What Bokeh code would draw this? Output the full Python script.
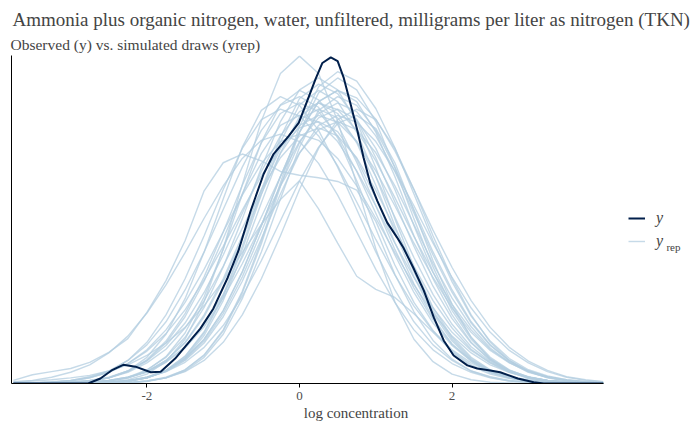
from bokeh.plotting import figure
from bokeh.models import Range1d, FixedTicker, Legend, LegendItem, Title, Label
from bokeh.embed import file_html
from bokeh.resources import INLINE

# Data (densities)
grid_x = [-3.75, -3.5, -3.25, -3.0, -2.75, -2.5, -2.25, -2.0, -1.75, -1.5, -1.25, -1.0,
          -0.75, -0.5, -0.25, 0.0, 0.25, 0.5, 0.75, 1.0, 1.25, 1.5, 1.75, 2.0,
          2.25, 2.5, 2.75, 3.0, 3.25, 3.5, 3.75, 3.98]

yrep_01 = [0, 0, 0, .001, .002, .004, .009, .019, .037, .066, .110, .168, .237, .311, .377, .423,
           .44, .426, .388, .332, .267, .202, .143, .095, .059, .035, .019, .010, .005, .002, .001, 0]
yrep_02 = [0, 0, 0, 0, 0, .001, .003, .009, .020, .041, .077, .133, .206, .290, .370, .428,
           .45, .439, .406, .357, .298, .236, .178, .127, .086, .055, .034, .020, .011, .006, .003, .001]
yrep_03 = [0, 0, 0, 0, .001, .002, .004, .010, .021, .040, .071, .117, .179, .253, .332, .403,
           .452, .47, .452, .403, .332, .253, .179, .117, .071, .040, .021, .010, .004, .002, .001, 0]
yrep_04 = [0, 0, .001, .002, .004, .009, .019, .037, .065, .107, .164, .232, .304, .369, .414, .43,
           .419, .388, .341, .285, .225, .170, .121, .082, .053, .033, .019, .010, .005, .003, .001, .001]
yrep_05 = [0, 0, 0, .001, .002, .005, .010, .019, .035, .059, .095, .143, .202, .267, .332, .388,
           .426, .44, .423, .377, .311, .237, .168, .110, .066, .037, .019, .009, .004, .002, .001, 0]
yrep_06 = [0, 0, .001, .002, .005, .009, .018, .033, .055, .089, .133, .188, .249, .310, .362, .397,
           .41, .397, .362, .310, .249, .188, .133, .089, .055, .033, .018, .009, .005, .002, .001, 0]
yrep_07 = [0, 0, 0, 0, .001, .004, .009, .021, .043, .081, .139, .215, .303, .387, .447, .47,
           .455, .415, .355, .285, .215, .153, .102, .063, .038, .021, .010, .005, .002, .001, 0, 0]
yrep_08 = [0, 0, 0, 0, 0, 0, .001, .003, .009, .020, .042, .079, .136, .211, .296, .379,
           .438, .46, .446, .406, .347, .279, .211, .150, .099, .062, .037, .020, .011, .005, .002, .001]
yrep_09 = [0, 0, 0, .001, .002, .005, .010, .022, .042, .074, .122, .187, .264, .346, .420, .471,
           .49, .471, .420, .346, .264, .187, .122, .074, .042, .022, .010, .005, .002, .001, 0, 0]
yrep_10 = [0, 0, 0, 0, .001, .002, .005, .010, .019, .034, .058, .093, .140, .197, .261, .325,
           .379, .417, .43, .409, .354, .277, .197, .127, .074, .039, .019, .008, .003, .001, 0, 0]
yrep_11 = [0, .001, .002, .004, .009, .018, .032, .054, .086, .130, .183, .243, .302, .353, .388, .40,
           .390, .361, .317, .265, .210, .158, .113, .076, .049, .030, .018, .010, .005, .003, .001, .001]
yrep_12 = [.001, .001, .003, .005, .010, .018, .032, .052, .080, .118, .166, .220, .278, .333, .379, .410,
           .42, .404, .360, .297, .226, .160, .105, .063, .036, .018, .009, .004, .002, .001, 0, 0]
yrep_13 = [0, 0, 0, 0, .001, .002, .004, .009, .019, .037, .065, .107, .164, .232, .304, .369,
           .414, .43, .419, .388, .341, .285, .225, .170, .121, .082, .053, .033, .019, .010, .005, .003]
yrep_14 = [0, .001, .002, .004, .009, .019, .037, .066, .110, .168, .237, .311, .377, .423, .44, .429,
           .397, .349, .291, .231, .174, .124, .084, .054, .033, .019, .011, .006, .003, .001, .001, 0]
yrep_15 = [0, 0, 0, 0, .001, .002, .004, .010, .021, .040, .071, .117, .179, .253, .332, .403,
           .452, .47, .458, .424, .373, .311, .246, .186, .133, .090, .058, .036, .021, .011, .006, .003]
yrep_16 = [.003, .005, .010, .018, .030, .049, .076, .113, .158, .210, .265, .317, .361, .390, .40, .388,
           .353, .302, .243, .183, .130, .086, .054, .032, .018, .009, .004, .002, .001, 0, 0, 0]
yrep_17 = [0, 0, 0, .001, .003, .009, .020, .042, .079, .136, .211, .296, .379, .438, .46, .446,
           .406, .347, .279, .211, .150, .099, .062, .037, .020, .011, .005, .002, .001, 0, 0, 0]
yrep_18 = [0, 0, 0, 0, 0, 0, .001, .004, .010, .022, .046, .086, .148, .229, .322, .412,
           .476, .50, .485, .441, .378, .304, .229, .163, .108, .068, .040, .022, .012, .006, .003, .001]
yrep_19 = [0, 0, 0, 0, .001, .002, .006, .015, .035, .071, .131, .216, .319, .421, .497, .525,
           .497, .421, .319, .216, .131, .071, .035, .015, .006, .002, .001, 0, 0, 0, 0, 0]
yrep_20 = [.005, .014, .019, .024, .034, .050, .072, .114, .165, .229, .309, .354, .368, .357, .340, .334,
           .330, .324, .310, .260, .190, .130, .085, .050, .028, .015, .008, .004, .002, .001, 0, 0]
yrep_21 = [.002, .004, .006, .009, .013, .020, .030, .045, .065, .090, .125, .165, .210, .255, .295, .325,
           .280, .225, .172, .151, .138, .112, .082, .052, .030, .017, .009, .004, .002, .001, 0, 0]
yrep_22 = [0, 0, 0, 0, 0, .001, .004, .009, .021, .043, .081, .139, .215, .303, .387, .447,
           .47, .452, .403, .332, .253, .179, .117, .071, .040, .021, .010, .004, .002, .001, 0, 0]
yrep_23 = [0, 0, 0, 0, .001, .002, .004, .009, .020, .038, .068, .112, .171, .243, .318, .386,
           .433, .45, .436, .397, .340, .273, .206, .146, .097, .061, .036, .020, .010, .005, .002, .001]
yrep_24 = [0, 0, .001, .002, .005, .010, .020, .036, .061, .097, .146, .206, .273, .340, .397, .436,
           .45, .433, .386, .318, .243, .171, .112, .068, .038, .020, .009, .004, .002, .001, 0, 0]
yrep_25 = [0, 0, .001, .002, .004, .009, .020, .038, .068, .112, .171, .243, .318, .386, .433, .45,
           .436, .397, .340, .273, .206, .146, .097, .061, .036, .020, .010, .005, .002, .001, 0, 0]
yrep_26 = [0, 0, 0, .001, .002, .005, .010, .018, .034, .057, .091, .137, .192, .255, .317, .370,
           .407, .42, .407, .370, .317, .255, .192, .137, .091, .057, .034, .018, .010, .005, .002, .001]
yrep_27 = [0, 0, 0, .001, .002, .004, .009, .019, .037, .065, .107, .164, .232, .304, .369, .414,
           .43, .419, .388, .341, .285, .225, .170, .121, .082, .053, .033, .019, .010, .005, .003, .001]
yrep_28 = [0, 0, 0, 0, 0, .001, .002, .004, .009, .019, .037, .066, .110, .168, .237, .311,
           .377, .423, .44, .423, .377, .311, .237, .168, .110, .066, .037, .019, .009, .004, .002, .001]
yrep_29 = [0, 0, 0, 0, 0, 0, .001, .004, .009, .022, .045, .084, .145, .224, .316, .403,
           .466, .49, .471, .420, .346, .264, .187, .122, .074, .042, .022, .010, .005, .002, .001, 0]
yrep_30 = [0, .001, .002, .005, .011, .020, .037, .062, .099, .150, .211, .279, .347, .406, .446, .46,
           .443, .394, .325, .248, .175, .115, .069, .039, .020, .010, .004, .002, .001, 0, 0, 0]
yrep_31 = [0, 0, 0, 0, 0, .001, .004, .009, .021, .044, .083, .142, .220, .309, .395, .457,
           .48, .465, .423, .362, .291, .220, .156, .104, .065, .038, .021, .011, .005, .002, .001, 0]

obs_x = [-3.75, -2.77, -2.61, -2.45, -2.31, -2.15, -1.95, -1.82, -1.63, -1.43, -1.30, -1.13,
         -0.94, -0.80, -0.64, -0.47, -0.34, -0.14, -0.01, 0.10, 0.21, 0.30, 0.41, 0.50,
         0.58, 0.67, 0.76, 0.84, 0.93, 1.02, 1.15, 1.28, 1.36, 1.49, 1.63, 1.76,
         1.89, 2.02, 2.20, 2.33, 2.50, 2.63, 2.86, 3.07, 3.20, 3.98]
obs_dens = [0, 0, .008, .022, .030, .027, .018, .019, .040, .069, .088, .120,
            .170, .213, .277, .336, .368, .397, .418, .453, .488, .514, .523, .517,
            .490, .448, .405, .362, .320, .293, .258, .234, .218, .186, .149, .106,
            .069, .045, .029, .024, .021, .018, .008, .002, 0, 0]

x_ticks = [-2, 0, 2]
x_lo, x_hi = -3.775, 3.984

yrep_draws = [yrep_01, yrep_02, yrep_03, yrep_04, yrep_05, yrep_06, yrep_07, yrep_08,
              yrep_09, yrep_10, yrep_11, yrep_12, yrep_13, yrep_14, yrep_15, yrep_16,
              yrep_17, yrep_18, yrep_19, yrep_20, yrep_21, yrep_22, yrep_23, yrep_24,
              yrep_25, yrep_26, yrep_27, yrep_28, yrep_29, yrep_30, yrep_31]

serif = "Liberation Serif"

# frame spans the full width so the legend can sit inside it, right of the data
p = figure(width=700, height=432, output_backend="svg", toolbar_location=None,
           x_range=Range1d(x_lo, 5.256), y_range=Range1d(0, 0.526),
           min_border_left=11, min_border_right=0, min_border_top=55, min_border_bottom=49,
           background_fill_color="white", border_fill_color="white")
p.outline_line_color = None
p.xgrid.visible = False
p.ygrid.visible = False

# titles (the one added later sits closer to the plot)
p.title.text = "Ammonia plus organic nitrogen, water, unfiltered, milligrams per liter as nitrogen (TKN)"
p.title.text_font = serif
p.title.text_font_size = "19px"
p.title.text_font_style = "normal"
p.title.standoff = 3
p.title.offset = 1
p.add_layout(Title(text="Observed (y) vs. simulated draws (yrep)",
                   text_font=serif, text_font_size="15.5px", text_font_style="normal",
                   standoff=5, offset=-1), "above")

# draws
rep_renderers = []
for draw in yrep_draws:
    r = p.line(grid_x, draw, line_color="#b3cde0", line_alpha=0.75, line_width=1.4)
    rep_renderers.append(r)
obs_r = p.line(obs_x, obs_dens, line_color="#011f4b", line_width=2)

# axes
p.xaxis.bounds = (x_lo, x_hi)
p.xaxis.ticker = FixedTicker(ticks=x_ticks)
p.xaxis.major_label_overrides = {t: str(t) for t in x_ticks}
p.xaxis.axis_label = "log concentration"
p.xaxis.axis_label_text_font = serif
p.xaxis.axis_label_text_font_size = "15px"
p.xaxis.axis_label_text_font_style = "normal"
p.xaxis.axis_label_standoff = 2
p.xaxis.major_label_text_font = serif
p.xaxis.major_label_text_font_size = "13px"
p.xaxis.major_label_text_color = "#4d4d4d"
p.xaxis.major_tick_out = 4
p.xaxis.major_tick_in = 0
p.xaxis.minor_tick_out = 0
p.xaxis.minor_tick_in = 0
p.xaxis.major_label_standoff = 4
p.xaxis.axis_line_color = "black"

p.yaxis.ticker = FixedTicker(ticks=[])
p.yaxis.major_label_text_font_size = "0px"
p.yaxis.major_tick_out = 0
p.yaxis.major_tick_in = 0
p.yaxis.minor_tick_out = 0
p.yaxis.minor_tick_in = 0
p.yaxis.major_label_standoff = 0
p.yaxis.axis_line_color = "black"

# legend
legend = Legend(items=[LegendItem(label="y", renderers=[obs_r]),
                       LegendItem(label="y", renderers=[rep_renderers[0]])],
                location=(617, 132), glyph_width=17, glyph_height=20, label_standoff=11,
                padding=10, margin=0, spacing=3, border_line_color=None,
                background_fill_alpha=0, label_text_font=serif,
                label_text_font_size="16px", label_text_font_style="italic")
p.add_layout(legend)
p.add_layout(Label(x=4.809, y=0.219, text="rep", text_font=serif,
                   text_font_size="11px", text_baseline="alphabetic"))

open("out.html", "w").write(file_html(p, INLINE))
